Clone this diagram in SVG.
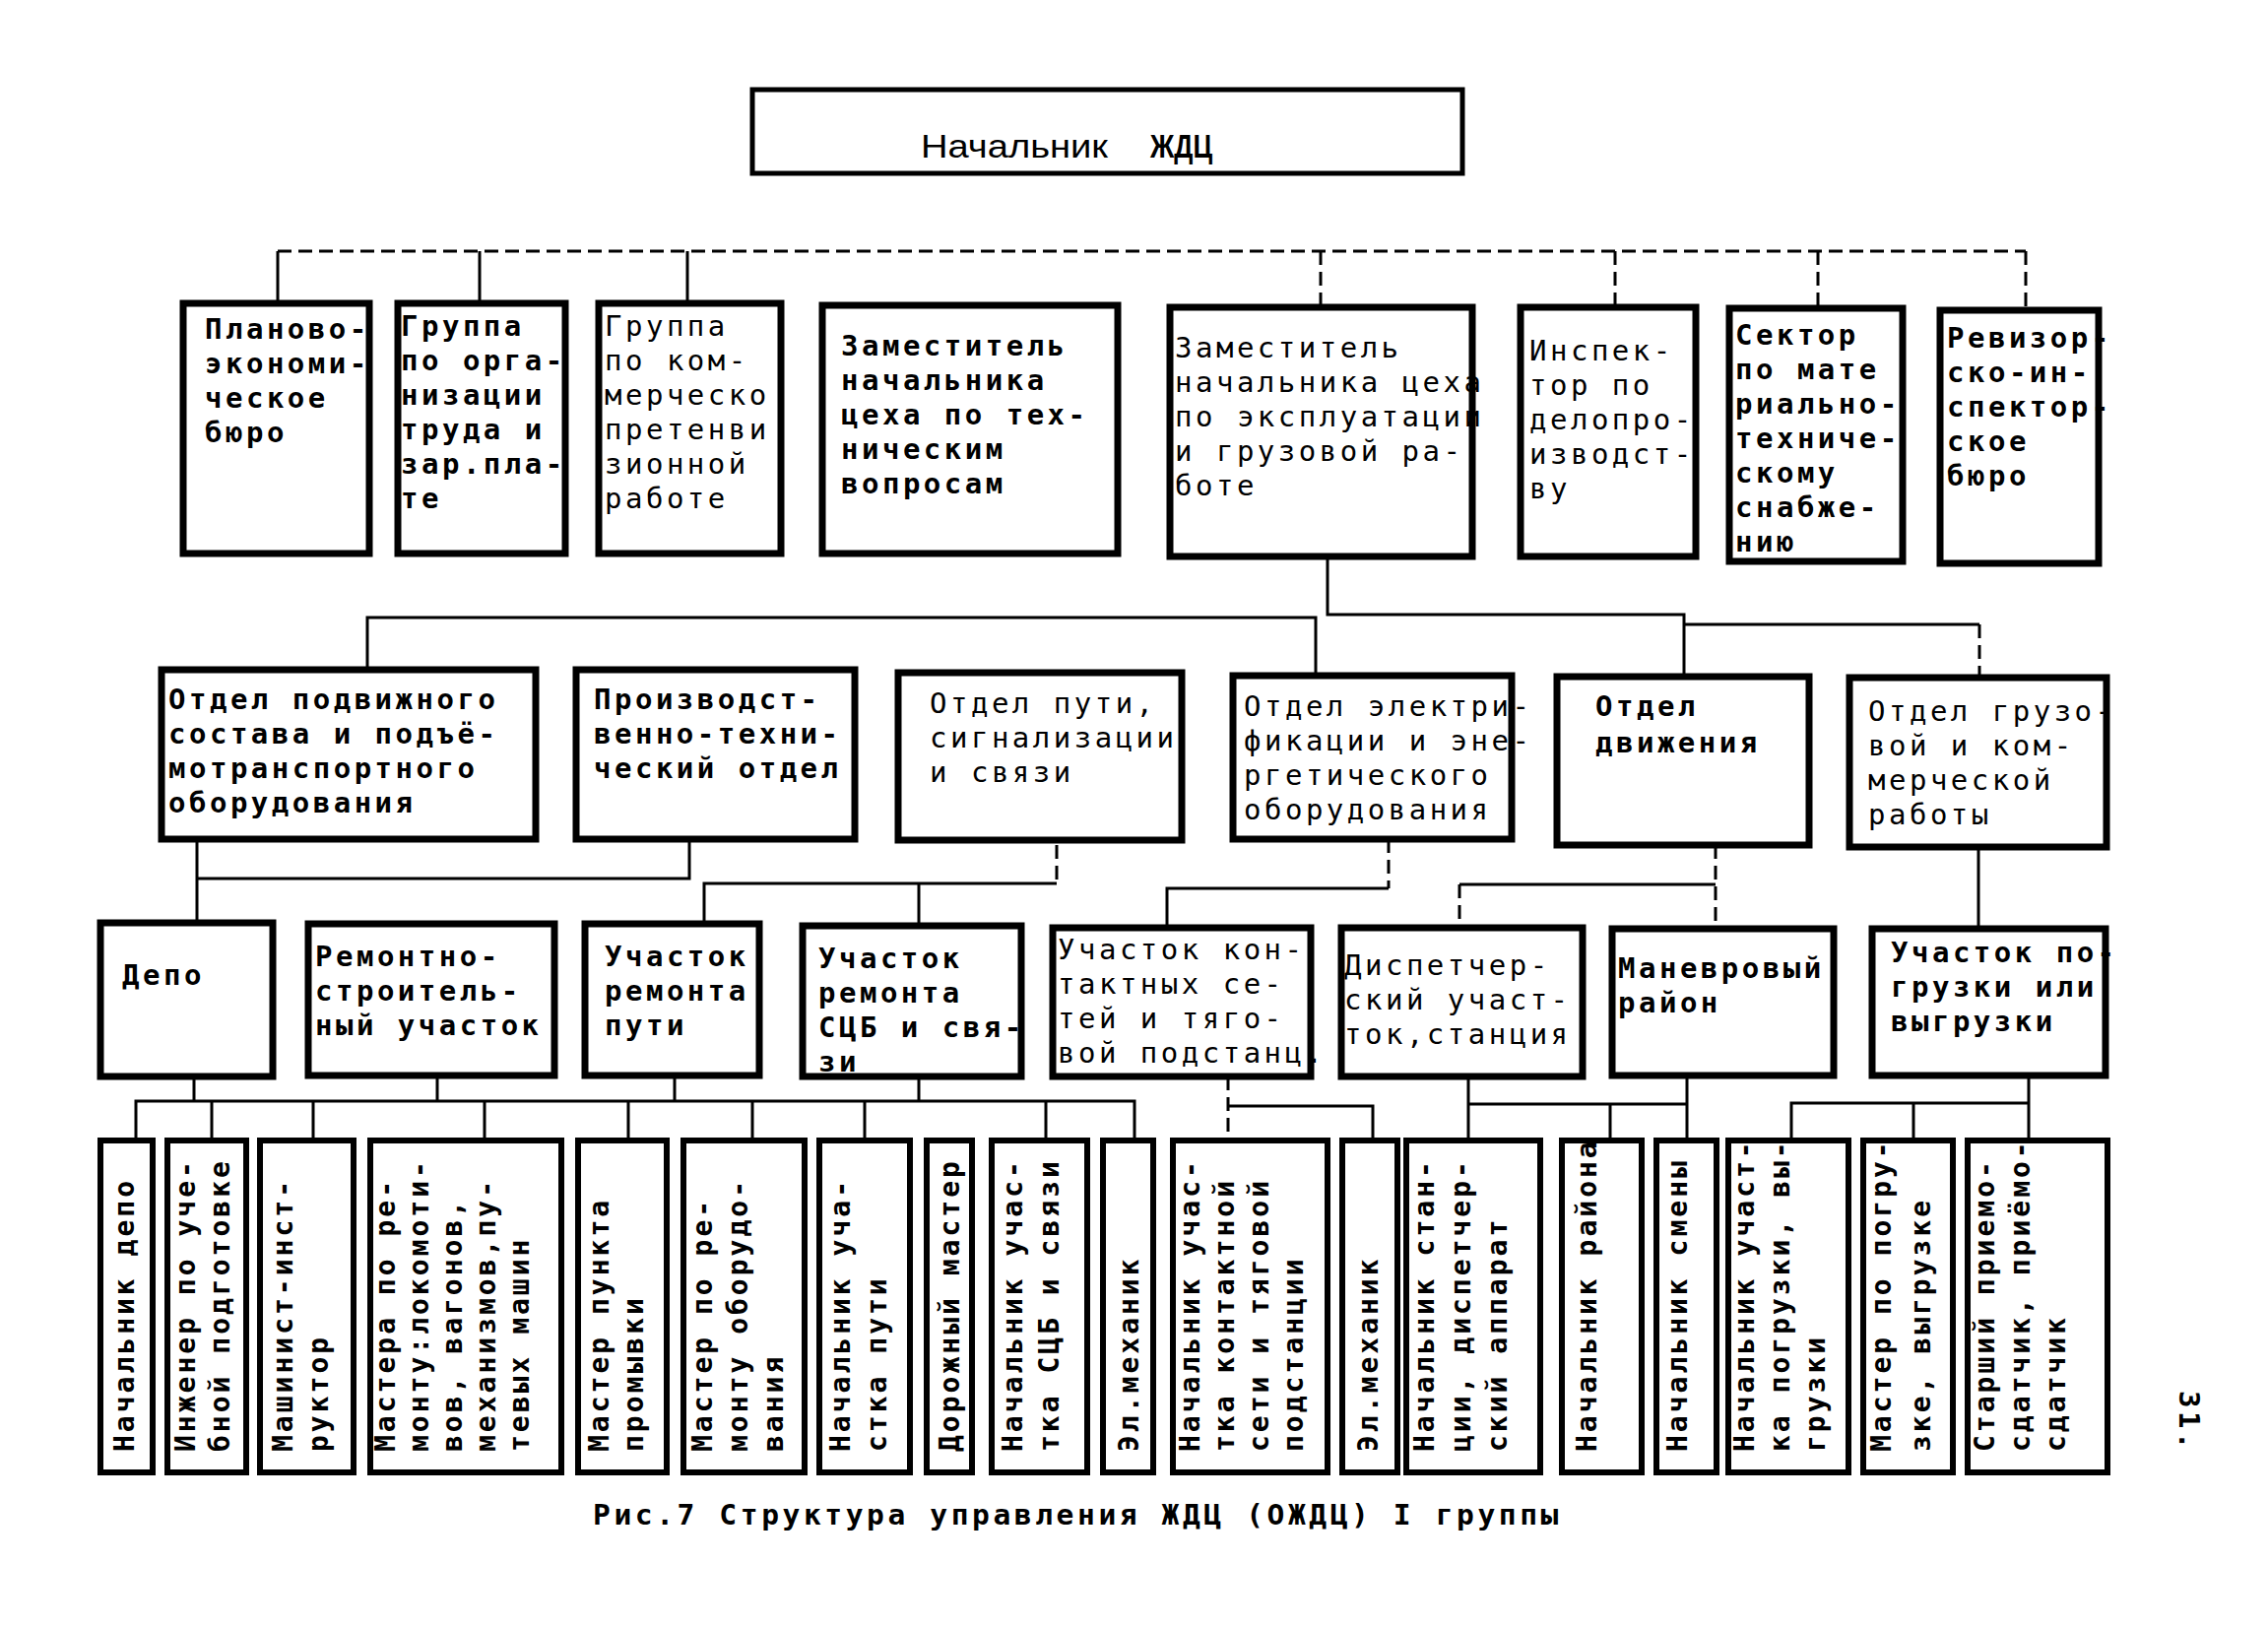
<svg xmlns="http://www.w3.org/2000/svg" width="2303" height="1654" viewBox="0 0 2303 1654">
<style>
.b{fill:#fff;stroke:#000;stroke-width:7}
.b5{fill:#fff;stroke:#000;stroke-width:6}
.t{font-family:"DejaVu Sans Mono","Liberation Mono",monospace;font-size:29px;letter-spacing:3.5px;font-weight:bold;fill:#000}
.l{font-weight:normal}
.v{font-family:"DejaVu Sans Mono","Liberation Mono",monospace;font-size:28px;letter-spacing:3px;font-weight:bold;fill:#000}
.c{stroke:#000;stroke-width:3;fill:none}
.d{stroke-dasharray:14 7}
</style>
<rect width="2303" height="1654" fill="#fff"/>

<g id="connectors">
  <path class="c d" d="M282,255 H2057"/>
  <path class="c" d="M282,255 V308 M487,255 V308 M698,255 V308"/>
  <path class="c d" d="M1341,255 V312 M1640,255 V312 M1846,255 V313 M2057,255 V315"/>
  <path class="c" d="M1348,565 V624 H1710 V687"/>
  <path class="c" d="M373,680 V627 H1336 V686"/>
  <path class="c" d="M1710,634 H2010"/>
  <path class="c d" d="M2010,634 V688"/>
  <path class="c" d="M200,852 V937 M200,892 H700 V852"/>
  <path class="c" d="M715,938 V897 H1073 M933,897 V940"/>
  <path class="c d" d="M1073,858 V897"/>
  <path class="c d" d="M1410,852 V902"/>
  <path class="c" d="M1410,902 H1185 V942"/>
  <path class="c" d="M1482,898 H1742"/>
  <path class="c d" d="M1742,858 V943 M1482,898 V942"/>
  <path class="c" d="M2009,860 V943"/>
  <path class="c" d="M138,1158 V1118 H1152 V1158 M197,1093 V1118 M444,1092 V1118 M685,1092 V1118 M933,1093 V1118"/>
  <path class="c" d="M215,1118 V1158 M318,1118 V1158 M492,1118 V1158 M638,1118 V1158 M764,1118 V1158 M878,1118 V1158 M1062,1118 V1158"/>
  <path class="c d" d="M1247,1093 V1158"/>
  <path class="c" d="M1247,1123 H1394 V1158"/>
  <path class="c" d="M1491,1093 V1158 M1491,1121 H1713 M1635,1121 V1158 M1713,1092 V1158"/>
  <path class="c" d="M2060,1092 V1158 M1819,1158 V1120 H2060 M1943,1120 V1158"/>
</g>

<g id="n-head">
  <rect x="764" y="91" width="721" height="85" fill="#fff" stroke="#000" stroke-width="5"/>
  <text x="935" y="160" font-family="Liberation Sans, Arial, sans-serif" font-size="34" textLength="190" lengthAdjust="spacingAndGlyphs">Начальник</text>
  <text x="1168" y="160" font-family="Liberation Sans, Arial, sans-serif" font-size="34" font-weight="bold" textLength="63" lengthAdjust="spacingAndGlyphs">ЖДЦ</text>
</g>

<g id="n-plan">
  <rect class="b" x="186" y="308" width="189" height="254"/>
  <text class="t"><tspan x="208" y="344">Планово-</tspan><tspan x="208" y="379">экономи-</tspan><tspan x="208" y="414">ческое</tspan><tspan x="208" y="449">бюро</tspan></text>
</g>
<g id="n-org">
  <rect class="b" x="404" y="308" width="170" height="254"/>
  <text class="t"><tspan x="407" y="341">Группа</tspan><tspan x="407" y="376">по орга-</tspan><tspan x="407" y="411">низации</tspan><tspan x="407" y="446">труда и</tspan><tspan x="407" y="481">зар.пла-</tspan><tspan x="407" y="516">те</tspan></text>
</g>
<g id="n-pret">
  <rect class="b" x="608" y="308" width="185" height="254"/>
  <text class="t l"><tspan x="614" y="341">Группа</tspan><tspan x="614" y="376">по ком-</tspan><tspan x="614" y="411">мерческо</tspan><tspan x="614" y="446">претенви</tspan><tspan x="614" y="481">зионной</tspan><tspan x="614" y="516">работе</tspan></text>
</g>
<g id="n-zamtech">
  <rect class="b" x="835" y="310" width="300" height="252"/>
  <text class="t"><tspan x="854" y="361">Заместитель</tspan><tspan x="854" y="396">начальника</tspan><tspan x="854" y="431">цеха по тех-</tspan><tspan x="854" y="466">ническим</tspan><tspan x="854" y="501">вопросам</tspan></text>
</g>
<g id="n-zamexp">
  <rect class="b" x="1188" y="312" width="307" height="253"/>
  <text class="t l"><tspan x="1193" y="363">Заместитель</tspan><tspan x="1193" y="398">начальника цеха</tspan><tspan x="1193" y="433">по эксплуатации</tspan><tspan x="1193" y="468">и грузовой ра-</tspan><tspan x="1193" y="503">боте</tspan></text>
</g>
<g id="n-insp">
  <rect class="b" x="1544" y="312" width="178" height="253"/>
  <text class="t l"><tspan x="1553" y="366">Инспек-</tspan><tspan x="1553" y="401">тор по</tspan><tspan x="1553" y="436">делопро-</tspan><tspan x="1553" y="471">изводст-</tspan><tspan x="1553" y="506">ву</tspan></text>
</g>
<g id="n-sect">
  <rect class="b" x="1756" y="313" width="176" height="257"/>
  <text class="t"><tspan x="1762" y="350">Сектор</tspan><tspan x="1762" y="385">по мате</tspan><tspan x="1762" y="420">риально-</tspan><tspan x="1762" y="455">техниче-</tspan><tspan x="1762" y="490">скому</tspan><tspan x="1762" y="525">снабже-</tspan><tspan x="1762" y="560">нию</tspan></text>
</g>
<g id="n-rev">
  <rect class="b" x="1970" y="315" width="161" height="257"/>
  <text class="t"><tspan x="1977" y="353">Ревизор-</tspan><tspan x="1977" y="388">ско-ин-</tspan><tspan x="1977" y="423">спектор-</tspan><tspan x="1977" y="458">ское</tspan><tspan x="1977" y="493">бюро</tspan></text>
</g>

<g id="n-podv">
  <rect class="b" x="164" y="680" width="380" height="172"/>
  <text class="t"><tspan x="171" y="720">Отдел подвижного</tspan><tspan x="171" y="755">состава и подъё-</tspan><tspan x="171" y="790">мотранспортного</tspan><tspan x="171" y="825">оборудования</tspan></text>
</g>
<g id="n-pto">
  <rect class="b" x="585" y="680" width="283" height="172"/>
  <text class="t"><tspan x="603" y="720">Производст-</tspan><tspan x="603" y="755">венно-техни-</tspan><tspan x="603" y="790">ческий отдел</tspan></text>
</g>
<g id="n-put">
  <rect class="b" x="912" y="683" width="288" height="170"/>
  <text class="t l"><tspan x="944" y="724">Отдел пути,</tspan><tspan x="944" y="759">сигнализации</tspan><tspan x="944" y="794">и связи</tspan></text>
</g>
<g id="n-elek">
  <rect class="b" x="1252" y="686" width="283" height="166"/>
  <text class="t l"><tspan x="1263" y="727">Отдел электри-</tspan><tspan x="1263" y="762">фикации и эне-</tspan><tspan x="1263" y="797">ргетического</tspan><tspan x="1263" y="832">оборудования</tspan></text>
</g>
<g id="n-dvizh">
  <rect class="b" x="1581" y="687" width="256" height="171"/>
  <text class="t"><tspan x="1620" y="727">Отдел</tspan><tspan x="1620" y="764">движения</tspan></text>
</g>
<g id="n-gruz">
  <rect class="b" x="1878" y="688" width="261" height="172"/>
  <text class="t l"><tspan x="1897" y="732">Отдел грузо-</tspan><tspan x="1897" y="767">вой и ком-</tspan><tspan x="1897" y="802">мерческой</tspan><tspan x="1897" y="837">работы</tspan></text>
</g>

<g id="n-depo">
  <rect class="b" x="102" y="937" width="175" height="156"/>
  <text class="t"><tspan x="124" y="1000">Депо</tspan></text>
</g>
<g id="n-rsu">
  <rect class="b" x="313" y="938" width="250" height="154"/>
  <text class="t"><tspan x="320" y="981">Ремонтно-</tspan><tspan x="320" y="1016">строитель-</tspan><tspan x="320" y="1051">ный участок</tspan></text>
</g>
<g id="n-urp">
  <rect class="b" x="594" y="938" width="177" height="154"/>
  <text class="t"><tspan x="614" y="981">Участок</tspan><tspan x="614" y="1016">ремонта</tspan><tspan x="614" y="1051">пути</tspan></text>
</g>
<g id="n-scb">
  <rect class="b" x="815" y="940" width="222" height="153"/>
  <text class="t"><tspan x="831" y="983">Участок</tspan><tspan x="831" y="1018">ремонта</tspan><tspan x="831" y="1053">СЦБ и свя-</tspan><tspan x="831" y="1088">зи</tspan></text>
</g>
<g id="n-kont">
  <rect class="b" x="1069" y="942" width="262" height="151"/>
  <text class="t l"><tspan x="1074" y="974">Участок кон-</tspan><tspan x="1074" y="1009">тактных се-</tspan><tspan x="1074" y="1044">тей и тяго-</tspan><tspan x="1074" y="1079">вой подстанц.</tspan></text>
</g>
<g id="n-disp">
  <rect class="b" x="1362" y="942" width="245" height="151"/>
  <text class="t l"><tspan x="1365" y="990">Диспетчер-</tspan><tspan x="1365" y="1025">ский участ-</tspan><tspan x="1365" y="1060">ток,станция</tspan></text>
</g>
<g id="n-man">
  <rect class="b" x="1637" y="943" width="225" height="149"/>
  <text class="t"><tspan x="1643" y="993">Маневровый</tspan><tspan x="1643" y="1028">район</tspan></text>
</g>
<g id="n-pogr">
  <rect class="b" x="1901" y="943" width="237" height="149"/>
  <text class="t"><tspan x="1920" y="977">Участок по-</tspan><tspan x="1920" y="1012">грузки или</tspan><tspan x="1920" y="1047">выгрузки</tspan></text>
</g>

<g id="p1"><rect class="b5" x="102" y="1158" width="53" height="337"/>
  <text class="v" transform="rotate(-90)"><tspan x="-1474" y="136">Начальник депо</tspan></text></g>
<g id="p2"><rect class="b5" x="170" y="1158" width="80" height="337"/>
  <text class="v" transform="rotate(-90)"><tspan x="-1474" y="198">Инженер по уче-</tspan><tspan x="-1474" y="233">бной подготовке</tspan></text></g>
<g id="p3"><rect class="b5" x="264" y="1158" width="95" height="337"/>
  <text class="v" transform="rotate(-90)"><tspan x="-1474" y="297">Машинист-инст-</tspan><tspan x="-1474" y="333">руктор</tspan></text></g>
<g id="p4"><rect class="b5" x="376" y="1158" width="194" height="337"/>
  <text class="v" transform="rotate(-90)"><tspan x="-1474" y="401">Мастера по ре-</tspan><tspan x="-1474" y="435">монту:локомоти-</tspan><tspan x="-1474" y="469">вов, вагонов,</tspan><tspan x="-1474" y="503">механизмов,пу-</tspan><tspan x="-1474" y="537">тевых машин</tspan></text></g>
<g id="p5"><rect class="b5" x="587" y="1158" width="90" height="337"/>
  <text class="v" transform="rotate(-90)"><tspan x="-1474" y="618">Мастер пункта</tspan><tspan x="-1474" y="653">промывки</tspan></text></g>
<g id="p6"><rect class="b5" x="694" y="1158" width="123" height="337"/>
  <text class="v" transform="rotate(-90)"><tspan x="-1474" y="723">Мастер по ре-</tspan><tspan x="-1474" y="759">монту оборудо-</tspan><tspan x="-1474" y="795">вания</tspan></text></g>
<g id="p7"><rect class="b5" x="832" y="1158" width="92" height="337"/>
  <text class="v" transform="rotate(-90)"><tspan x="-1474" y="863">Начальник уча-</tspan><tspan x="-1474" y="900">стка пути</tspan></text></g>
<g id="p8"><rect class="b5" x="941" y="1158" width="46" height="337"/>
  <text class="v" transform="rotate(-90)"><tspan x="-1474" y="974">Дорожный мастер</tspan></text></g>
<g id="p9"><rect class="b5" x="1007" y="1158" width="97" height="337"/>
  <text class="v" transform="rotate(-90)"><tspan x="-1474" y="1038">Начальник учас-</tspan><tspan x="-1474" y="1075">тка СЦБ и связи</tspan></text></g>
<g id="p10"><rect class="b5" x="1120" y="1158" width="51" height="337"/>
  <text class="v" transform="rotate(-90)"><tspan x="-1474" y="1156">Эл.механик</tspan></text></g>
<g id="p11"><rect class="b5" x="1191" y="1158" width="157" height="337"/>
  <text class="v" transform="rotate(-90)"><tspan x="-1474" y="1218">Начальник учас-</tspan><tspan x="-1474" y="1253">тка контактной</tspan><tspan x="-1474" y="1288">сети и тяговой</tspan><tspan x="-1474" y="1323">подстанции</tspan></text></g>
<g id="p12"><rect class="b5" x="1363" y="1158" width="56" height="337"/>
  <text class="v" transform="rotate(-90)"><tspan x="-1474" y="1399">Эл.механик</tspan></text></g>
<g id="p13"><rect class="b5" x="1428" y="1158" width="136" height="337"/>
  <text class="v" transform="rotate(-90)"><tspan x="-1474" y="1456">Начальник стан-</tspan><tspan x="-1474" y="1493">ции, диспетчер-</tspan><tspan x="-1474" y="1530">ский аппарат</tspan></text></g>
<g id="p14"><rect class="b5" x="1586" y="1158" width="81" height="337"/>
  <text class="v" transform="rotate(-90)"><tspan x="-1474" y="1621">Начальник района</tspan></text></g>
<g id="p15"><rect class="b5" x="1682" y="1158" width="61" height="337"/>
  <text class="v" transform="rotate(-90)"><tspan x="-1474" y="1713">Начальник смены</tspan></text></g>
<g id="p16"><rect class="b5" x="1755" y="1158" width="122" height="337"/>
  <text class="v" transform="rotate(-90)"><tspan x="-1474" y="1781">Начальник участ-</tspan><tspan x="-1474" y="1817">ка погрузки, вы-</tspan><tspan x="-1474" y="1853">грузки</tspan></text></g>
<g id="p17"><rect class="b5" x="1892" y="1158" width="91" height="337"/>
  <text class="v" transform="rotate(-90)"><tspan x="-1474" y="1920">Мастер по погру-</tspan><tspan x="-1474" y="1960">зке, выгрузке</tspan></text></g>
<g id="p18"><rect class="b5" x="1998" y="1158" width="142" height="337"/>
  <text class="v" transform="rotate(-90)"><tspan x="-1474" y="2025">Старший приемо-</tspan><tspan x="-1474" y="2061">сдатчик, приёмо-</tspan><tspan x="-1474" y="2097">сдатчик</tspan></text></g>

<g id="caption">
  <text class="t" x="602" y="1548" textLength="984" lengthAdjust="spacingAndGlyphs">Рис.7 Структура управления ЖДЦ (ОЖДЦ) I группы</text>
</g>
<g id="pagenum">
  <text class="t" transform="translate(2213,1412) rotate(90)">31.</text>
</g>
</svg>
